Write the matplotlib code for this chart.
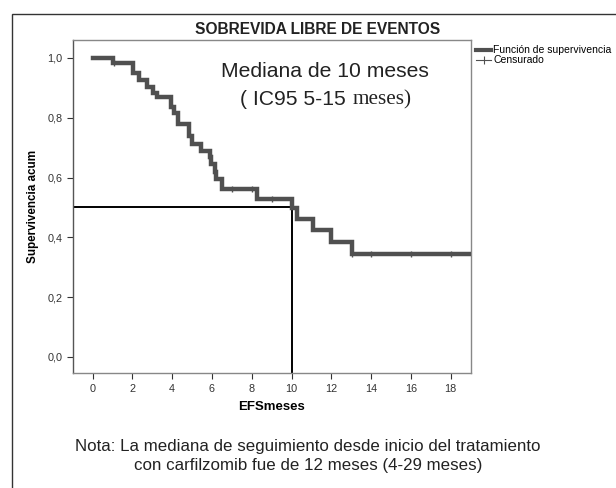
"""
Curva de Kaplan-Meier: sobrevida libre de eventos
"""
import matplotlib
matplotlib.use("Agg")
import matplotlib.pyplot as plt
from matplotlib.lines import Line2D
from matplotlib.patches import Rectangle

# datos
tiempos = [0, 1.05, 2.02, 2.34, 2.76, 3.06, 3.23, 3.95, 4.1, 4.3, 4.85, 5.0,
           5.45, 5.9, 5.95, 6.15, 6.2, 6.5, 8.25, 10.03, 10.26, 11.1, 12.0,
           13.03, 19.0]
supervivencia = [1.0, 0.983, 0.949, 0.927, 0.904, 0.882, 0.868, 0.837, 0.815,
                 0.779, 0.740, 0.713, 0.690, 0.668, 0.646, 0.620, 0.596, 0.562,
                 0.529, 0.497, 0.462, 0.423, 0.384, 0.345, 0.345]
censurados = [1.1, 5.92, 7.0, 8.03, 9.03, 13.03, 14.0, 16.0, 18.0]
mediana = 10
x_ticks = list(range(0, 19, 2))
y_ticks = [0.0, 0.2, 0.4, 0.6, 0.8, 1.0]

plt.rcParams['font.family'] = ['Liberation Sans', 'DejaVu Sans']

gris = '#505050'


def s_en(t):
    """valor de la curva escalonada en t"""
    val = supervivencia[0]
    for ti, si in zip(tiempos, supervivencia):
        if ti <= t:
            val = si
    return val


fig = plt.figure(figsize=(6.16, 4.88), dpi=100)
ax = fig.add_axes([0.118, 0.235, 0.646, 0.683])

ax.step(tiempos, supervivencia, where='post', color=gris, lw=3.2,
        solid_joinstyle='miter', zorder=3)
ax.plot(censurados, [s_en(t) for t in censurados], ls='none', marker='|',
        ms=5, mew=1, color=gris, zorder=4)

# lineas de la mediana
ax.plot([-1, mediana], [0.5, 0.5], color='black', lw=1.4, zorder=2)
ax.plot([mediana, mediana], [-0.06, 0.5], color='black', lw=1.4, zorder=2)

ax.set_xlim(-1, 19)
ax.set_ylim(-0.055, 1.06)
ax.set_xticks(x_ticks)
ax.set_xticklabels([str(v) for v in x_ticks])
ax.set_yticks(y_ticks)
ax.set_yticklabels([f"{v:.1f}".replace('.', ',') for v in y_ticks])
ax.tick_params(labelsize=7.8, colors='#333333', length=4, width=0.8)
for s in ax.spines.values():
    s.set_color('#888888')
    s.set_linewidth(1.0)
ax.spines['left'].set_color('#555555')

ax.set_xlabel('EFSmeses', fontsize=9.5, fontweight='bold', labelpad=5)
ax.set_ylabel('Supervivencia acum', fontsize=8.4, fontweight='bold',
              labelpad=6)

fig.text(0.516, 0.939, 'SOBREVIDA LIBRE DE EVENTOS', ha='center',
         va='center', fontsize=11.2, fontweight='bold', color='#222222')

# anotacion de la mediana
ax.text(0.635, 0.905, 'Mediana de 10 meses', transform=ax.transAxes,
        ha='center', va='center', fontsize=15.2, color='#222222')
t1 = ax.text(0.42, 0.805, '( IC95 5-15', transform=ax.transAxes,
             ha='left', va='baseline', fontsize=15.2, color='#222222')
ax.annotate('meses)', xy=(1, 0), xycoords=t1, xytext=(5, 0),
            textcoords='offset points', ha='left', va='bottom',
            fontsize=15.2, color='#222222',
            family=['Liberation Serif', 'DejaVu Serif'])

# leyenda fuera del grafico
h1 = Line2D([], [], color=gris, lw=3.0)
h2 = Line2D([], [], color=gris, lw=0.8, marker='|', ms=6, mew=0.8)
ax.legend([h1, h2], ['Función de supervivencia', 'Censurado'],
          loc='upper left', bbox_to_anchor=(1.0, 1.0), frameon=False,
          fontsize=7.5, handlelength=1.5, handletextpad=0.15,
          borderaxespad=0.1, labelspacing=0.0)

fig.text(0.5, 0.066,
         'Nota: La mediana de seguimiento desde inicio del tratamiento\n'
         'con carfilzomib fue de 12 meses (4-29 meses)',
         ha='center', va='center', fontsize=12.2, color='#222222',
         linespacing=1.3)

# marco exterior
fig.patches.append(Rectangle((12 / 616, -0.05), 1.2, 1 - 14 / 488 + 0.05,
                             transform=fig.transFigure, fill=False,
                             edgecolor='#333333', lw=1.0))

fig.savefig('out.png', dpi=100)
